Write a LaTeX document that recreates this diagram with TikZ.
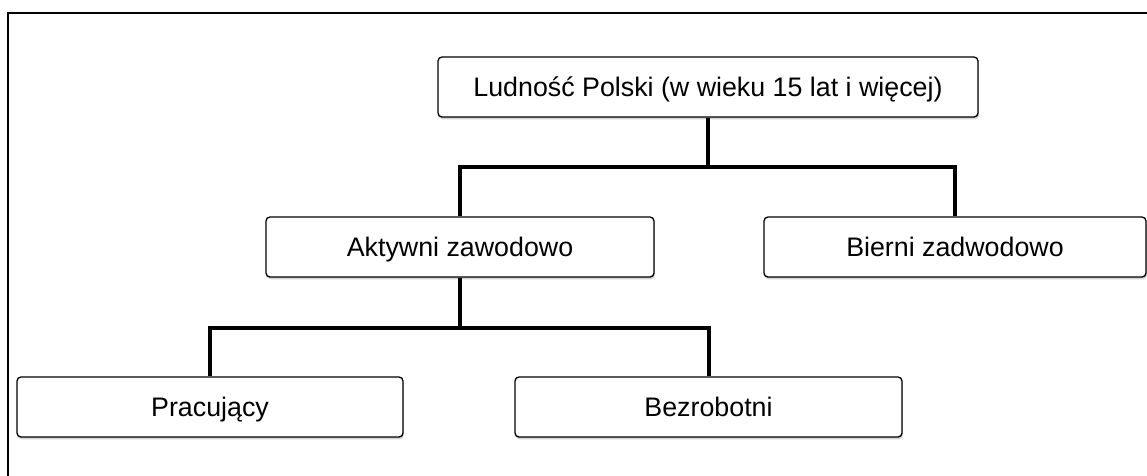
\documentclass[tikz,border=0pt]{standalone}
\usepackage{fontspec}
\setmainfont{Liberation Sans}
\usetikzlibrary{shadows}
\begin{document}
\begin{tikzpicture}[x=1pt,y=-1pt,
  box/.style={draw=black, line width=1.3pt, rounded corners=4pt, fill=white,
    inner sep=0pt, minimum height=60pt, font=\fontsize{26.8}{30}\selectfont,
    text height=19.2pt, text depth=0pt,
    drop shadow={shadow xshift=0.8pt, shadow yshift=-2.4pt, opacity=0.35}},
  link/.style={line width=4pt}]
\useasboundingbox (0,0) rectangle (1147,475);
\draw[line width=1.5pt] (8,476) -- (8,13) -- (1148,13);
\node[box, minimum width=540pt] (root) at (708,87) {Ludność Polski (w wieku 15 lat i więcej)};
\node[box, minimum width=388pt] (akt) at (460,247) {Aktywni zawodowo};
\node[box, minimum width=382pt] (bie) at (955,247) {Bierni zadwodowo};
\node[box, minimum width=386pt] (pra) at (210,407) {Pracujący};
\node[box, minimum width=387pt] (bez) at (708.5,407) {Bezrobotni};
\coordinate (bar1) at (708,167);
\coordinate (bar2) at (460,328);
\draw[link] (root.south) -- (bar1);
\draw[link] (akt.north) |- (bar1) -| (bie.north);
\draw[link] (akt.south) -- (bar2);
\draw[link] (pra.north) |- (bar2) -| (bez.north);
\end{tikzpicture}
\end{document}
